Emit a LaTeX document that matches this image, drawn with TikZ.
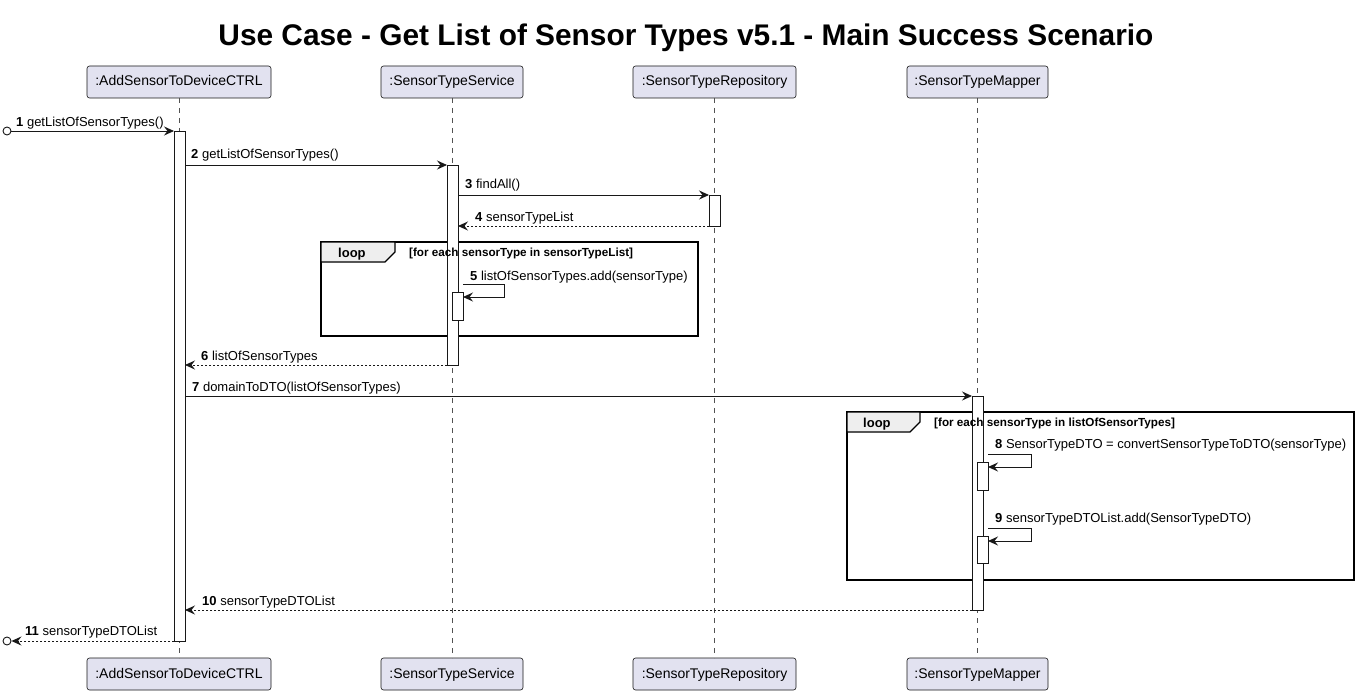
\documentclass[tikz,border=0pt]{standalone}
\usepackage{fontspec}
\usepackage{graphicx}
\setmainfont{Liberation Sans}
\usetikzlibrary{arrows.meta}
\definecolor{c18}{HTML}{181818}
\definecolor{partfill}{HTML}{E2E2F0}
\definecolor{tabfill}{HTML}{EEEEEE}
\tikzset{
  part/.style={draw=c18, fill=partfill, rounded corners=2.5pt, line width=0.6pt,
    minimum height=32pt, inner sep=0pt, outer sep=0pt, text height=10pt, text depth=2pt,
    font=\fontsize{14}{14}\selectfont},
  life/.style={draw=c18!75, dash pattern=on 5pt off 5pt, line width=0.6pt},
  act/.style={draw=c18, fill=white, line width=0.9pt, minimum width=11pt,
    inner sep=0pt, outer sep=0pt, anchor=north west},
  msg/.style={draw=c18, line width=0.9pt, -{Stealth[length=10pt,width=9pt,inset=3.5pt]}},
  ret/.style={msg, dash pattern=on 2pt off 2pt},
  lbl/.style={anchor=base west, inner sep=0pt, font=\fontsize{13}{13}\selectfont},
  endpt/.style={circle, draw=c18, fill=white, minimum size=8pt, inner sep=0pt, line width=0.9pt},
  loopframe/.style={draw=black, line width=1.5pt, inner sep=0pt, outer sep=0pt, anchor=north west},
  looptab/.style={draw=black, fill=tabfill, line width=1.2pt},
  looptxt/.style={anchor=base west, inner sep=0pt, font=\fontsize{13}{13}\selectfont\bfseries},
  guardtxt/.style={anchor=base west, inner sep=0pt, font=\fontsize{11.7}{12}\selectfont\bfseries},
}
\begin{document}
\begin{tikzpicture}[x=1pt,y=-1pt]
\useasboundingbox (0,0) rectangle (1359,695);
\fill[white] (0,0) rectangle (1359,695);

% title
\node[anchor=base, inner sep=0pt] (title) at (686,46)
  {\resizebox{935pt}{!}{\fontsize{29}{29}\selectfont\bfseries Use Case - Get List of Sensor Types v5.1 - Main Success Scenario}};

% participants
\node[part, minimum width=184pt] (pC) at (179,82) {:AddSensorToDeviceCTRL};
\node[part, minimum width=142pt] (pS) at (452,82) {:SensorTypeService};
\node[part, minimum width=163pt] (pR) at (714.5,82) {:SensorTypeRepository};
\node[part, minimum width=141pt] (pM) at (977.5,82) {:SensorTypeMapper};
\node[part, minimum width=184pt] (pC2) at (179,674) {:AddSensorToDeviceCTRL};
\node[part, minimum width=142pt] (pS2) at (452,674) {:SensorTypeService};
\node[part, minimum width=163pt] (pR2) at (714.5,674) {:SensorTypeRepository};
\node[part, minimum width=141pt] (pM2) at (977.5,674) {:SensorTypeMapper};

% lifelines
\draw[life] (pC) -- (pC2);
\draw[life] (pS) -- (pS2);
\draw[life] (pR) -- (pR2);
\draw[life] (pM) -- (pM2);

% loop frames
\node[loopframe, minimum width=377pt, minimum height=94pt] (L1) at (321,242) {};
\draw[looptab] (L1.north west) -- ++(74,0) -- ++(0,10) -- ++(-10,10) -- ++(-64,0) -- cycle;
\node[looptxt] (L1t) at (338,257) {loop};

\node[loopframe, minimum width=507pt, minimum height=168pt] (L2) at (847,412) {};
\draw[looptab] (L2.north west) -- ++(73,0) -- ++(0,10) -- ++(-10,10) -- ++(-63,0) -- cycle;
\node[looptxt] (L2t) at (863,427) {loop};

% activations
\node[act, minimum height=510pt] (aC) at (174,131) {};
\node[act, minimum height=200pt] (aS) at (447,165) {};
\node[act, minimum height=31pt] (aR) at (709,195) {};
\node[act, minimum height=28pt] (aS2) at (452,292) {};
\node[act, minimum height=214pt] (aM) at (972,396) {};
\node[act, minimum height=28pt] (aM2) at (977,462) {};
\node[act, minimum height=27pt] (aM3) at (977,536) {};

% guards (drawn over activations)
\node[guardtxt] (L1g) at (409,256) {[for each sensorType in sensorTypeList]};
\node[guardtxt] (L2g) at (934,426) {[for each sensorType in listOfSensorTypes]};

% endpoints
\node[endpt] (c1) at (7,131) {};
\node[endpt] (c11) at (7,641) {};

% messages
\draw[msg] (c1) -- (aC.north west);
\node[lbl] (l1) at (16,127) {\textbf{1} getListOfSensorTypes()};

\draw[msg] (aC.east |- aS.north) -- (aS.north west);
\node[lbl] (l2) at (191,159) {\textbf{2} getListOfSensorTypes()};

\draw[msg] (aS.east |- aR.north) -- (aR.north west);
\node[lbl] (l3) at (465,189) {\textbf{3} findAll()};

\draw[ret] (aR.south west) -- (aS.east |- aR.south);
\node[lbl] (l4) at (475,221) {\textbf{4} sensorTypeList};

\draw[msg] (aS2.east |- 0,284) -- (504,284) |- (aS2.east |- 0,297);
\node[lbl] (l5) at (470,280) {\textbf{5} listOfSensorTypes.add(sensorType)};

\draw[ret] (aS.south west) -- (aC.east |- aS.south);
\node[lbl] (l6) at (201,360) {\textbf{6} listOfSensorTypes};

\draw[msg] (aC.east |- aM.north) -- (aM.north west);
\node[lbl] (l7) at (192,391) {\textbf{7} domainToDTO(listOfSensorTypes)};

\draw[msg] (aM2.east |- 0,454) -- (1031,454) |- (aM2.east |- 0,467);
\node[lbl] (l8) at (995,448) {\textbf{8} SensorTypeDTO = convertSensorTypeToDTO(sensorType)};

\draw[msg] (aM3.east |- 0,528) -- (1031,528) |- (aM3.east |- 0,541);
\node[lbl] (l9) at (995,522) {\textbf{9} sensorTypeDTOList.add(SensorTypeDTO)};

\draw[ret] (aM.south west) -- (aC.east |- aM.south);
\node[lbl] (l10) at (202,605) {\textbf{10} sensorTypeDTOList};

\draw[ret] (aC.south west) -- (c11);
\node[lbl] (l11) at (25,635) {\textbf{11} sensorTypeDTOList};
\end{tikzpicture}
\end{document}
